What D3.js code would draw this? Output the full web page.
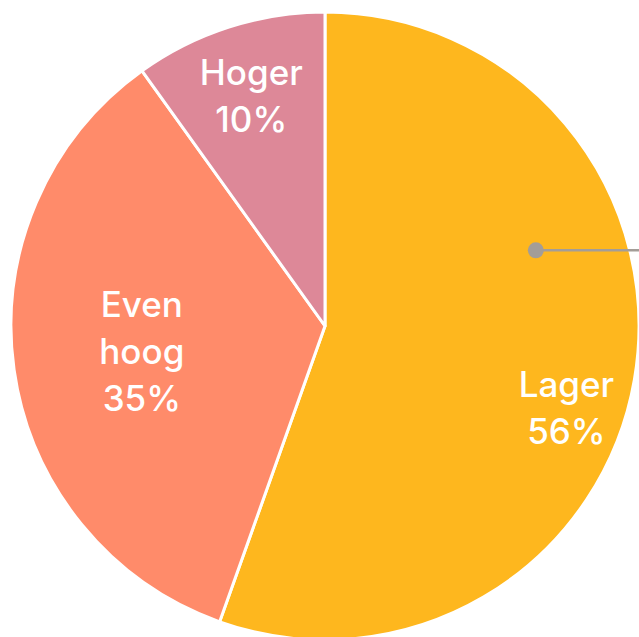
<!DOCTYPE html>
<html>
<head>
<meta charset="utf-8">
<script src="https://cdn.jsdelivr.net/npm/d3@7"></script>
<style>
  html, body { margin: 0; padding: 0; background: #fff; }
  svg { display: block; }
</style>
</head>
<body>
<div id="chart"></div>
<script>
// slices, clockwise from 12 o'clock
var categories = ['Lager', 'Even hoog', 'Hoger'];
var labelLines = [['Lager'], ['Even', 'hoog'], ['Hoger']];
var values = [56, 35, 10];
var colors = ['#feb71e', '#ff8b6a', '#dd8898'];

var width = 639, height = 637;
var cx = 325, cy = 326, R = 314;

// label placement: distance from centre and angle nudge (degrees)
var labelRadius = [255, 185, 241];
var labelNudge = [9, 0, 0];

var svg = d3.select('#chart')
  .append('svg')
  .attr('width', width)
  .attr('height', height);

var g = svg.append('g')
  .attr('transform', 'translate(' + cx + ',' + cy + ')');

var pie = d3.pie().sort(null).value(function (d) { return d; });
var arcs = pie(values);

var arc = d3.arc().innerRadius(0).outerRadius(R);

g.selectAll('path.slice')
  .data(arcs)
  .enter()
  .append('path')
  .attr('class', 'slice')
  .attr('d', arc)
  .attr('fill', function (d, i) { return colors[i]; })
  .attr('stroke', '#fff')
  .attr('stroke-width', 3)
  .attr('stroke-linejoin', 'round');

// callout marker inside the big slice
var lager = arcs[0];
var markAngle = lager.startAngle + (lager.endAngle - lager.startAngle) * 0.352;
var mx = 224 * Math.sin(markAngle), my = -224 * Math.cos(markAngle);
g.append('line')
  .attr('x1', mx).attr('y1', my)
  .attr('x2', width - cx).attr('y2', my)
  .attr('stroke', '#a39d98')
  .attr('stroke-width', 2.5);
g.append('circle')
  .attr('cx', mx).attr('cy', my)
  .attr('r', 8)
  .attr('fill', '#a39d98');

var lh = 47;
arcs.forEach(function (d, i) {
  var a = (d.startAngle + d.endAngle) / 2 + labelNudge[i] * Math.PI / 180;
  var x = labelRadius[i] * Math.sin(a);
  var y = -labelRadius[i] * Math.cos(a);
  var lines = labelLines[i].concat([d3.format('.0f')(values[i]) + '%']);
  var y0 = y - (lines.length - 1) * lh / 2 + 12;
  var t = g.append('text')
    .attr('text-anchor', 'middle')
    .attr('fill', '#fff')
    .style('font-family', 'Inter, "Noto Sans", sans-serif')
    .style('font-weight', 500)
    .style('font-size', '35px');
  lines.forEach(function (s, j) {
    t.append('tspan')
      .attr('x', x)
      .attr('y', y0 + j * lh)
      .text(s);
  });
});
</script>
</body>
</html>
